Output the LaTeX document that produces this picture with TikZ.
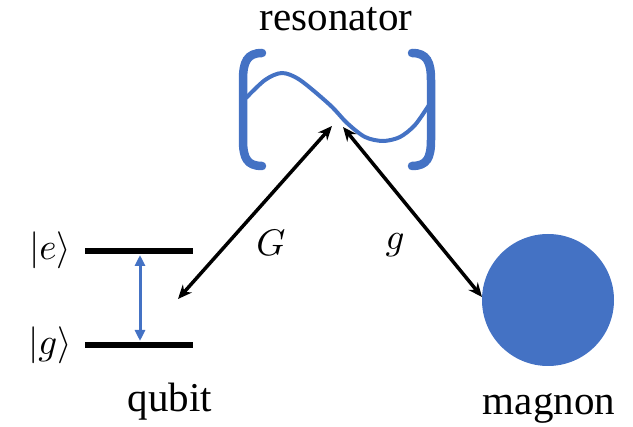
\documentclass[tikz,border=0pt]{standalone}
\usepackage{fontspec}
\setmainfont{Liberation Serif}
\usetikzlibrary{arrows.meta}
\definecolor{oblue}{HTML}{4472C4}
\newcommand{\bigmath}[1]{\scalebox{3.7}{$#1$}}
\tikzset{
  lbl/.style={font=\fontsize{41}{48}\selectfont, inner sep=0pt},
  mlbl/.style={inner sep=0pt},
  level/.style={line width=6pt},
  coup/.style={line width=3.5pt, {Stealth[length=14pt,width=12pt]}-{Stealth[length=14pt,width=12pt]}},
  bracket/.style={line width=8.5pt, oblue, line cap=round},
}
\begin{document}
\begin{tikzpicture}[x=1pt,y=-1pt]
\useasboundingbox (0,0) rectangle (633,427);
% labels
\node[lbl, anchor=base] (res) at (336,31) {resonator};
\node[lbl, anchor=base] (qub) at (170,412) {qubit};
\node[lbl, anchor=base] (mag) at (549,415) {magnon};
\node[mlbl] (ket e) at (50,250) {\bigmath{|e\rangle}};
\node[mlbl] (ket g) at (50,345) {\bigmath{|g\rangle}};
\node[mlbl] (Glab) at (271,243) {\bigmath{G}};
\node[mlbl] (glab) at (395,245) {\bigmath{g}};
% qubit levels
\coordinate (e1) at (85,251); \coordinate (e2) at (193,251);
\coordinate (g1) at (85,345); \coordinate (g2) at (193,345);
\draw[level] (e1) -- (e2);
\draw[level] (g1) -- (g2);
\coordinate (te) at (140,255); \coordinate (tg) at (140,341);
\draw[oblue, line width=3pt, {Triangle[length=11pt,width=10pt]}-{Triangle[length=11pt,width=10pt]}] (te) -- (tg);
% resonator brackets
\draw[bracket] (262,53) .. controls (247,53) and (243,62) .. (243,80) -- (243,140) .. controls (243,158) and (247,166) .. (262,166);
\draw[bracket] (412,53) .. controls (427,53) and (431,62) .. (431,80) -- (431,140) .. controls (431,158) and (427,166) .. (412,166);
% wave
\draw[oblue, line width=4pt] plot[smooth, tension=0.5] coordinates {(246,98) (265,80) (282,73) (300,80) (330,105) (347,123) (365,137) (383,141) (400,137) (415,125) (429,105)};
% magnon
\node[circle, fill=oblue, minimum size=132pt, inner sep=0pt] (magnon) at (548,300) {};
% coupling arrows
\coordinate (qtip) at (178,299);
\coordinate (rtipL) at (332,126);
\coordinate (rtipR) at (343,127);
\coordinate (mtip) at (482,297);
\draw[coup] (qtip) -- (rtipL);
\draw[coup] (rtipR) -- (mtip);
\end{tikzpicture}
\end{document}
